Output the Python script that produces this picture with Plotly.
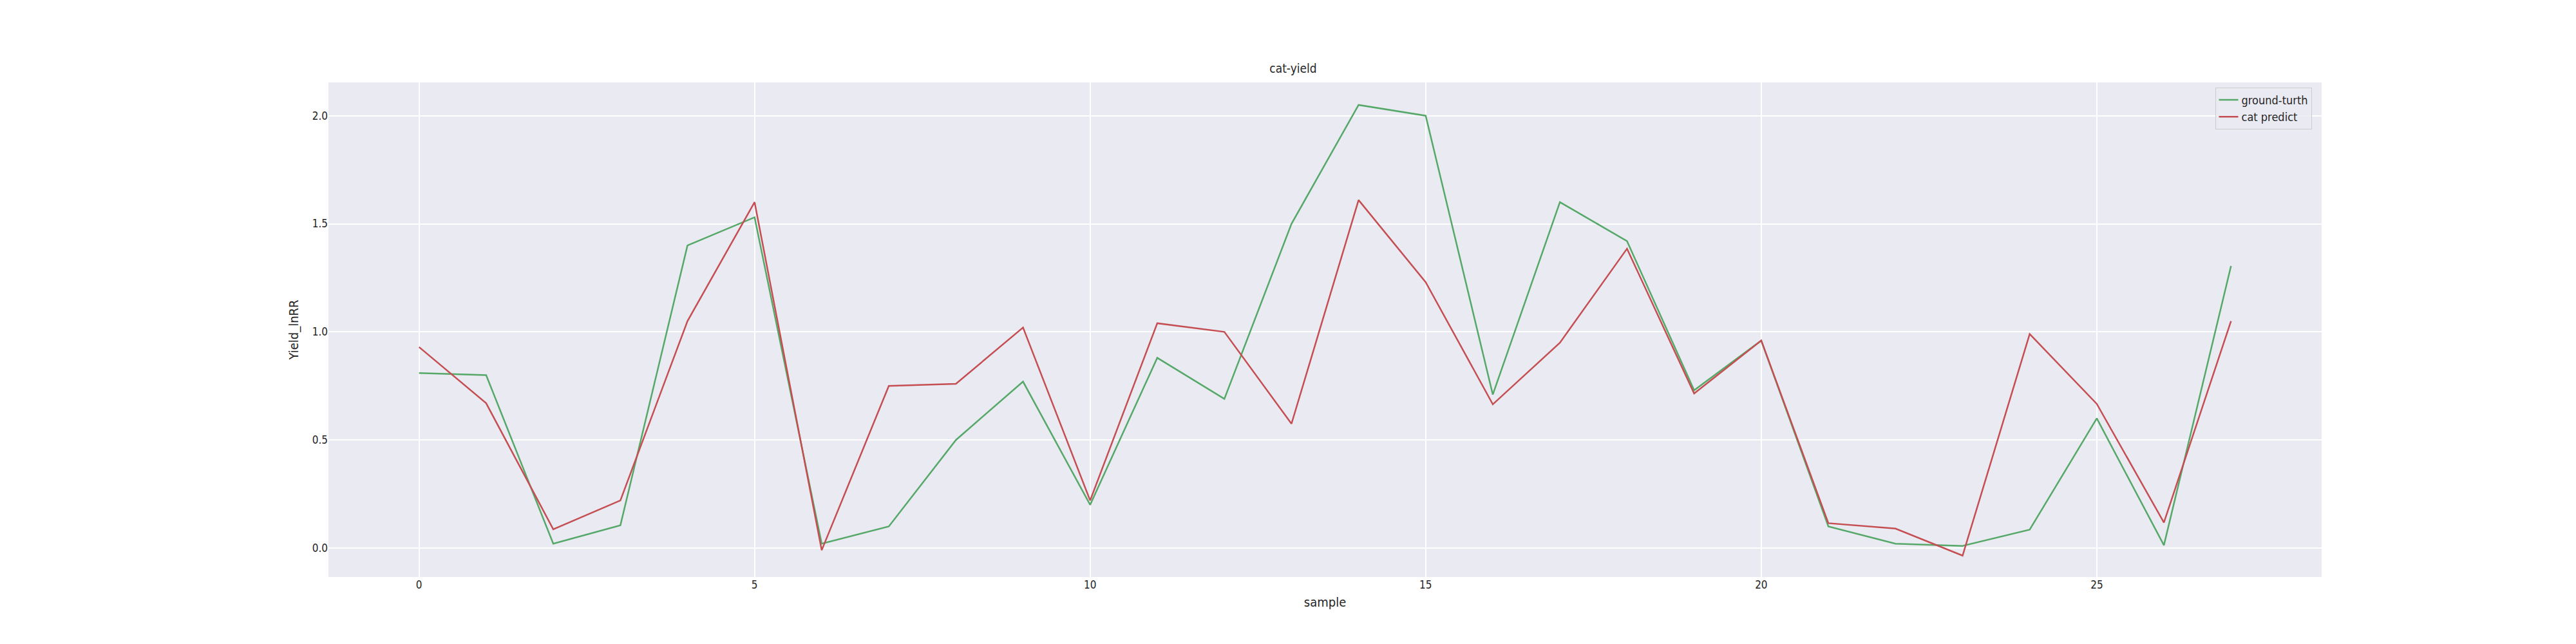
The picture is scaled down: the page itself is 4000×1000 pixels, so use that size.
import plotly.graph_objects as go

# sample index
samples = list(range(28))

ground_truth = [0.81, 0.80, 0.02, 0.105, 1.40, 1.53, 0.02, 0.10, 0.50, 0.77,
                0.20, 0.88, 0.69, 1.50, 2.05, 2.00, 0.71, 1.60, 1.42, 0.73,
                0.96, 0.10, 0.02, 0.01, 0.085, 0.60, 0.013, 1.305]
cat_predict = [0.93, 0.67, 0.087, 0.22, 1.05, 1.60, -0.01, 0.75, 0.76, 1.02,
               0.22, 1.04, 1.00, 0.575, 1.61, 1.23, 0.665, 0.95, 1.385, 0.715,
               0.96, 0.115, 0.09, -0.035, 0.99, 0.667, 0.118, 1.05]

FONT = "Liberation Sans Narrow, DejaVu Sans Condensed, sans-serif"

fig = go.Figure()
fig.add_trace(go.Scatter(x=samples, y=ground_truth, mode="lines", name="ground-turth",
                         line=dict(color="#55a868", width=2.5)))
fig.add_trace(go.Scatter(x=samples, y=cat_predict, mode="lines", name="cat predict",
                         line=dict(color="#c44e52", width=2.5)))

fig.update_layout(
    width=4000, height=1000,
    paper_bgcolor="white",
    plot_bgcolor="#eaeaf2",
    font=dict(family=FONT, size=17, color="#262626"),
    title=dict(text="cat-yield", x=0.5, xanchor="center", y=0.895, yanchor="bottom",
               font=dict(size=19)),
    margin=dict(l=502, r=403, t=120, b=112),
    showlegend=True,
    legend=dict(x=0.995, y=0.99, xanchor="right", yanchor="top",
                bgcolor="rgba(234,234,242,0.8)", bordercolor="#cccccc", borderwidth=1,
                font=dict(size=18)),
    xaxis=dict(title=dict(text="sample", font=dict(size=20), standoff=10),
               range=[-1.35, 28.35], tickvals=[0, 5, 10, 15, 20, 25],
               gridcolor="white", gridwidth=1.5, zeroline=False, ticks="", showline=False),
    yaxis=dict(title=dict(text="Yield_lnRR", font=dict(size=20), standoff=15),
               range=[-0.134, 2.154], tickvals=[0.0, 0.5, 1.0, 1.5, 2.0],
               tickformat=".1f",
               gridcolor="white", gridwidth=1.5, zeroline=False, ticks="", showline=False),
)

fig.write_html("out.html")
